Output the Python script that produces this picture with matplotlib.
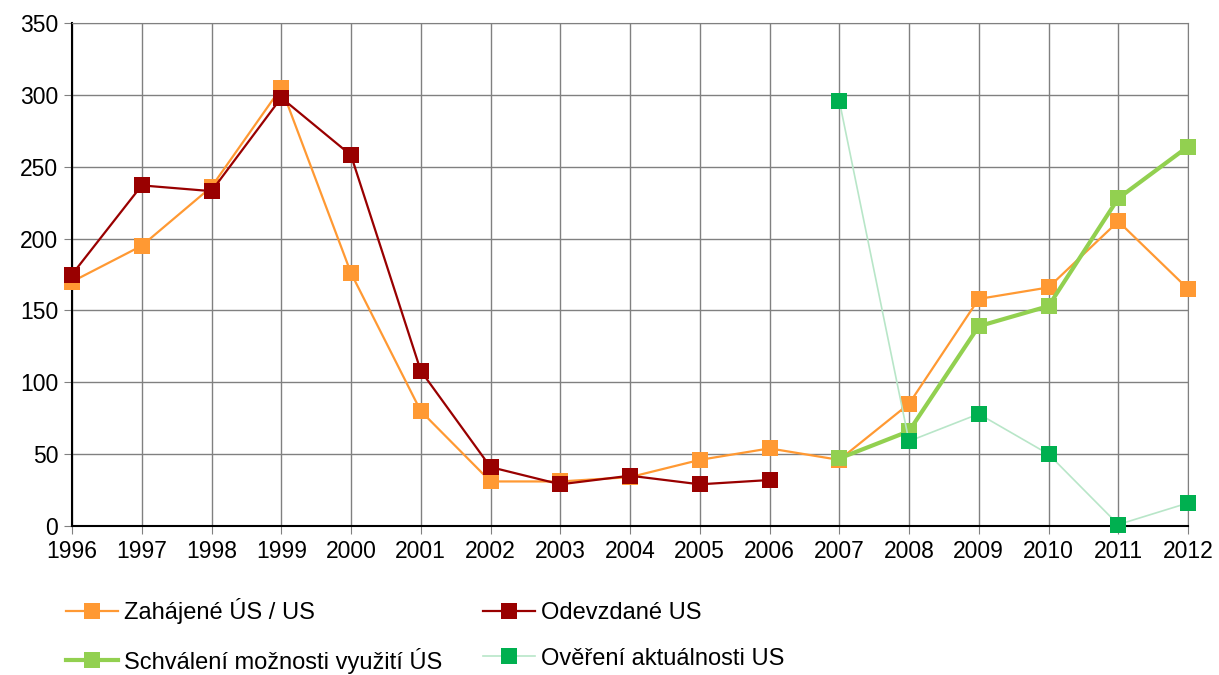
import numpy as np
import matplotlib
matplotlib.use('Agg')
import matplotlib.pyplot as plt

plt.rcParams['font.family'] = ['Liberation Sans', 'DejaVu Sans']

years = list(range(1996, 2013))
nan = np.nan
zahajene = [170, 195, 236, 305, 176, 80, 31, 31, 34, 46, 54, 46, 85, 158, 166, 212, 165]
odevzdane = [175, 237, 233, 298, 258, 108, 41, 29, 35, 29, 32, nan, nan, nan, nan, nan, nan]
schvaleni = [nan] * 11 + [47, 66, 139, 153, 228, 264]
overeni = [nan] * 11 + [296, 59, 78, 50, 1, 16]

W, H = 1219, 675
fig = plt.figure(figsize=(W / 100, H / 100), dpi=100)
ax = fig.add_axes([72 / W, 1 - 526 / H, (1188 - 72) / W, (526 - 23) / H])

ms = 12
l1, = ax.plot(years, zahajene, color='#ff9933', lw=1.6, marker='s', ms=ms,
              markeredgewidth=0, label='Zahájené ÚS / US', clip_on=False, zorder=3)
l2, = ax.plot(years, odevzdane, color='#990000', lw=1.6, marker='s', ms=ms,
              markeredgewidth=0, label='Odevzdané US', clip_on=False, zorder=4)
l3, = ax.plot(years, schvaleni, color='#92d050', lw=3, marker='s', ms=ms,
              markeredgewidth=0, label='Schválení možnosti využití ÚS', clip_on=False, zorder=5)
l4, = ax.plot(years, overeni, color='#b8e6c8', lw=1.2, marker='s', ms=ms,
              markerfacecolor='#00b050', markeredgewidth=0,
              label='Ověření aktuálnosti US', clip_on=False, zorder=6)

ax.set_xlim(1996, 2012)
ax.set_ylim(0, 350)
ax.set_xticks(years)
ax.set_yticks(range(0, 351, 50))
ax.grid(True, color='#808080', lw=1)
ax.set_axisbelow(True)
ax.tick_params(labelsize=16.5, length=6, color='#808080', direction='out', pad=4)
for s in ['top', 'right']:
    ax.spines[s].set_color('#808080')
for s in ['left', 'bottom']:
    ax.spines[s].set_color('black')
    ax.spines[s].set_linewidth(1.5)

fig.legend(handles=[l1, l3, l2, l4], ncol=2, loc='upper left',
           bbox_to_anchor=(66 / W, 1 - 598 / H), frameon=False, fontsize=17,
           borderpad=0, borderaxespad=0, handlelength=2.2, handletextpad=0.25,
           columnspacing=1.75, labelspacing=1.0)

fig.savefig('out.png', dpi=100)
